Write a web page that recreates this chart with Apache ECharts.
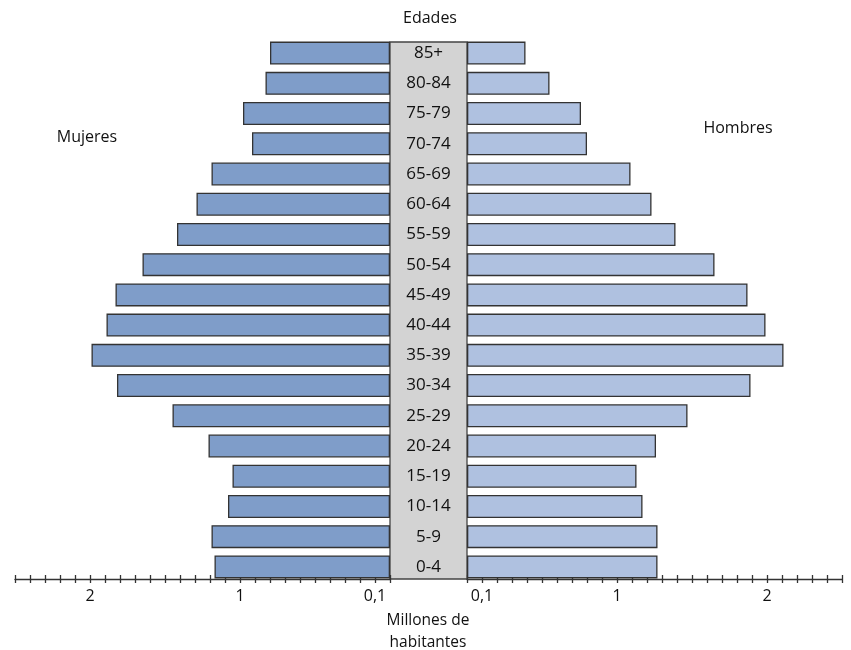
<!DOCTYPE html>
<html>
<head>
<meta charset="utf-8">
<script src="https://cdn.jsdelivr.net/npm/echarts@6/dist/echarts.min.js"></script>
<style>html,body{margin:0;padding:0;background:#fff}#c{width:851px;height:650px}</style>
</head>
<body>
<div id="c"></div>
<script>
// Age groups, bottom to top
const ages = ["0-4","5-9","10-14","15-19","20-24","25-29","30-34","35-39","40-44","45-49","50-54","55-59","60-64","65-69","70-74","75-79","80-84","85+"];
// Millions of inhabitants
const mujeres = [1.17,1.19,1.08,1.05,1.21,1.45,1.82,1.99,1.89,1.83,1.65,1.42,1.29,1.19,0.92,0.98,0.83,0.80];
const hombres = [1.27,1.27,1.17,1.13,1.26,1.47,1.89,2.11,1.99,1.87,1.65,1.39,1.23,1.09,0.80,0.76,0.55,0.39];
const tickValues = [0.1, 1, 2];
const tickLabels = ["0,1", "1", "2"];

const FONT = "Open Sans";
const TXT = "#111";
const fmt = v => { const i = tickValues.findIndex(t => Math.abs(t - v) < 1e-6); return i >= 0 ? tickLabels[i] : ""; };

function valueAxis(grid, inverse, inside, labels) {
  return {
    type: 'value', gridIndex: grid, position: 'bottom', inverse: inverse, min: 0, max: 2.5, interval: 0.1,
    offset: -3,
    axisLine: { show: !inside, lineStyle: { color: '#333', width: 1.3 } },
    axisTick: { show: true, inside: inside, length: 4, lineStyle: { color: '#333', width: 1.3 } },
    axisLabel: labels ? { show: true, customValues: tickValues, formatter: fmt, margin: 9, fontFamily: FONT, fontSize: 16, color: TXT } : { show: false },
    splitLine: { show: false }
  };
}

const chart = echarts.init(document.getElementById('c'));
chart.setOption({
  animation: false,
  backgroundColor: '#fff',
  grid: [
    { left: 15, right: 461, top: 38, bottom: 68 },
    { left: 467, right: 9, top: 38, bottom: 68 },
    { left: 390, right: 384, top: 42, bottom: 71, show: true, backgroundColor: '#d3d3d3', borderColor: '#444', borderWidth: 1.3, z: -1 }
  ],
  xAxis: [
    valueAxis(0, true, false, true),
    valueAxis(0, true, true, false),
    valueAxis(1, false, false, true),
    valueAxis(1, false, true, false),
    { type: 'value', gridIndex: 2, show: false }
  ],
  yAxis: [
    { type: 'category', gridIndex: 0, data: ages, position: 'right',
      axisLine: { show: false }, axisTick: { show: false },
      axisLabel: { align: 'center', margin: 38.5, fontFamily: FONT, fontSize: 17, color: TXT } },
    { type: 'category', gridIndex: 1, data: ages, show: false },
    { type: 'category', gridIndex: 2, data: ages, show: false }
  ],
  series: [
    { name: 'Mujeres', type: 'bar', xAxisIndex: 0, yAxisIndex: 0, data: mujeres, barWidth: 23,
      itemStyle: { color: '#7f9dc9', borderColor: '#333', borderWidth: 1.3 } },
    { name: 'Hombres', type: 'bar', xAxisIndex: 2, yAxisIndex: 1, data: hombres, barWidth: 23,
      itemStyle: { color: '#afc1e0', borderColor: '#333', borderWidth: 1.3 } }
  ],
  graphic: [
    { type: 'text', x: 430, y: 18, style: { text: 'Edades', align: 'center', verticalAlign: 'middle', font: '16px "Open Sans"', fill: TXT } },
    { type: 'text', x: 87, y: 137, style: { text: 'Mujeres', align: 'center', verticalAlign: 'middle', font: '16px "Open Sans"', fill: TXT } },
    { type: 'text', x: 738, y: 128, style: { text: 'Hombres', align: 'center', verticalAlign: 'middle', font: '16px "Open Sans"', fill: TXT } },
    { type: 'text', x: 428, y: 632, style: { text: 'Millones de\nhabitantes', align: 'center', verticalAlign: 'middle', lineHeight: 22, font: '15.5px "Open Sans"', fill: TXT } }
  ]
});
</script>
</body>
</html>
